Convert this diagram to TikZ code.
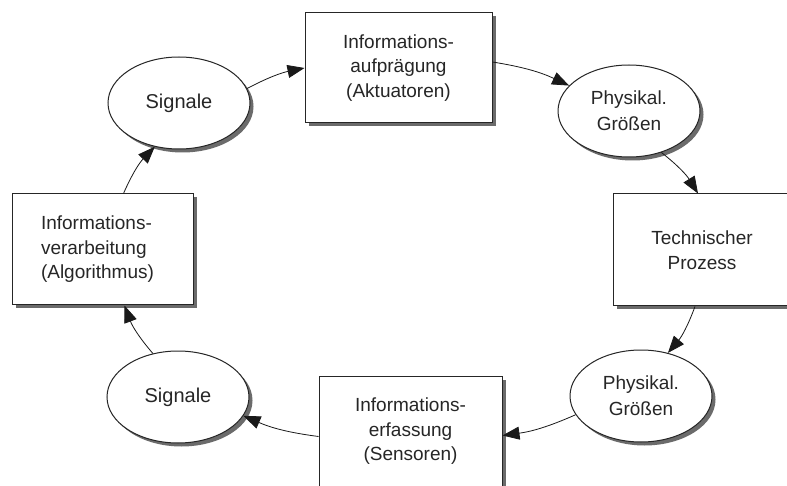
\documentclass[tikz,border=0pt]{standalone}
\usepackage{fontspec}
\setmainfont{Liberation Sans}
\usetikzlibrary{shapes.geometric,shadows,arrows.meta}

\begin{document}
\begin{tikzpicture}[x=1pt,y=-1pt,
  base/.style={draw=black!85, line width=1pt, fill=white, inner sep=0pt, text=black!85,
    drop shadow={shadow xshift=3.5pt, shadow yshift=-3.5pt, fill=black!58, opacity=1}},
  blk/.style={base, rectangle, align=center, font=\fontsize{19}{24.5}\selectfont},
  oval/.style={base, ellipse, minimum width=142pt, minimum height=92pt, align=center,
    font=\fontsize{19}{26}\selectfont},
  flow/.style={draw=black!90, line width=0.8pt, -{Triangle[length=17pt,width=13pt]}}
]
% canvas: one unit is one pixel, y grows downwards
\fill[white] (0,0) rectangle (787,486);
\useasboundingbox (0,0) rectangle (787,486);
\clip (0,0) rectangle (787,486);

% process stages
\node[blk, minimum width=187pt, minimum height=110pt] (akt) at (398.5,68)
  {Informations-\\aufprägung\\(Aktuatoren)};
\node[oval, font=\fontsize{20}{24}\selectfont] (sigT) at (179,103) {Signale};
\node[oval] (physT) at (629,111) {Physikal.\\Größen};
\node[blk, minimum width=178pt, minimum height=112pt] (proc) at (702,250)
  {Technischer\\Prozess};
\node[oval] (physB) at (641,396) {Physikal.\\Größen};
\node[blk, minimum width=183pt, minimum height=111pt] (sens) at (410.5,431.5)
  {Informations-\\erfassung\\(Sensoren)};
\node[oval, font=\fontsize{20}{24}\selectfont] (sigB) at (178,397) {Signale};
\node[blk, align=left, text width=123pt, inner xsep=29pt, minimum height=111pt] (algo)
  at (102.5,249.5) {Informations-\\verarbeitung\\(Algorithmus)};

% closed loop, clockwise
\draw[flow] (sigT.12) to[bend left=8] (akt.west);
\draw[flow] ([yshift=6pt]akt.east) to[bend left=8] (physT.157);
\draw[flow] (physT.-52) to[bend left=10] ([xshift=-4pt]proc.north);
\draw[flow] ([xshift=-7pt]proc.south) to[bend left=10] (physB.58);
\draw[flow] (physB.196) to[bend left=8] ([yshift=-4pt]sens.east);
\draw[flow] ([yshift=-5pt]sens.west) to[bend left=8] (sigB.-16);
\draw[flow] (sigB.120) to[bend left=10] ([xshift=22pt]algo.south);
\draw[flow] ([xshift=21pt]algo.north) to[bend left=10] (sigT.241);
\end{tikzpicture}
\end{document}
